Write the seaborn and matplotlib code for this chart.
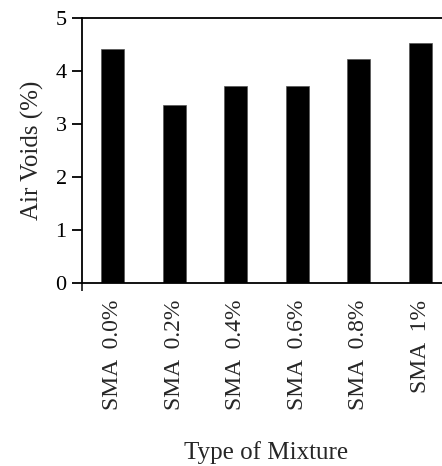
import matplotlib
matplotlib.use("Agg")
import matplotlib.pyplot as plt
import seaborn as sns
import pandas as pd

# data
mixtures = ["SMA  0.0%", "SMA  0.2%", "SMA  0.4%",
            "SMA  0.6%", "SMA  0.8%", "SMA  1%"]
air_voids = [4.42, 3.35, 3.72, 3.72, 4.23, 4.52]
y_ticks = [0, 1, 2, 3, 4, 5]

df = pd.DataFrame({"mixture": mixtures, "air_voids": air_voids})

sns.set_style("white")
plt.rcParams["font.family"] = ["Liberation Serif", "DejaVu Serif"]

fig = plt.figure(figsize=(4.42, 4.66), dpi=100)
ax = fig.add_axes([0.1855, 0.3927, 0.835, 0.5687])

sns.barplot(data=df, x="mixture", y="air_voids", color="black",
            width=0.37, saturation=1, edgecolor="#555555", linewidth=0.5, ax=ax)

ax.set_xlim(-0.5, 5.5)
ax.set_ylim(0, 5)
ax.set_yticks(y_ticks)
ax.tick_params(axis="y", direction="out", length=7, width=1.3, pad=4,
               labelsize=16, left=True, colors="black")
ax.tick_params(axis="x", length=0, pad=12, labelsize=17, labelrotation=90)
# small tick at the left corner of the category axis
ax.set_xticks([-0.5], minor=True)
ax.tick_params(axis="x", which="minor", direction="out", length=6, width=1.3, bottom=True)

for s in ["left", "bottom", "top"]:
    ax.spines[s].set_visible(True)
    ax.spines[s].set_color("black")
    ax.spines[s].set_linewidth(1.3)
ax.spines["right"].set_visible(False)

ax.set_ylabel("Air Voids (%)", fontsize=18, labelpad=8)
ax.set_xlabel("Type of Mixture", fontsize=18, labelpad=22)

plt.savefig("out.png", dpi=100)
plt.close()
